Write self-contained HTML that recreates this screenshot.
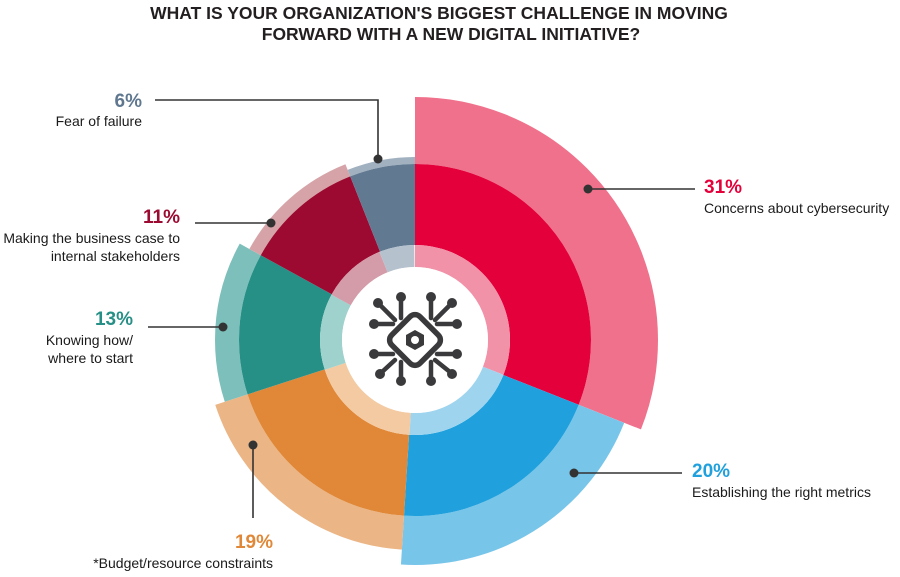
<!DOCTYPE html>
<html><head><meta charset="utf-8"><style>
html,body{margin:0;padding:0;background:#fff;}
svg{display:block;font-family:"Liberation Sans",sans-serif;}
.p{font-weight:bold;font-size:19px;}
.l{font-size:14px;fill:#1a1a1a;}
</style></head><body>
<svg width="900" height="577" viewBox="0 0 900 577">
<text x="439" y="19" text-anchor="middle" font-weight="bold" font-size="17.5" fill="#231f20">WHAT IS YOUR ORGANIZATION'S BIGGEST CHALLENGE IN MOVING</text>
<text x="451" y="40" text-anchor="middle" font-weight="bold" font-size="17.5" fill="#231f20">FORWARD WITH A NEW DIGITAL INITIATIVE?</text>
<g transform="rotate(-90 415 340)" fill="none">
<circle cx="415" cy="340" r="209.5" stroke="#f0718b" stroke-width="67" pathLength="100" stroke-dasharray="31 100" stroke-dashoffset="0"/>
<circle cx="415" cy="340" r="200.5" stroke="#78c5ea" stroke-width="49" pathLength="100" stroke-dasharray="20 100" stroke-dashoffset="-31"/>
<circle cx="415" cy="340" r="193" stroke="#ebb585" stroke-width="34" pathLength="100" stroke-dasharray="19 100" stroke-dashoffset="-51"/>
<circle cx="415" cy="340" r="188" stroke="#7dbfba" stroke-width="24" pathLength="100" stroke-dasharray="13 100" stroke-dashoffset="-70"/>
<circle cx="415" cy="340" r="182.5" stroke="#d6a4a8" stroke-width="13" pathLength="100" stroke-dasharray="11 100" stroke-dashoffset="-83"/>
<circle cx="415" cy="340" r="179.5" stroke="#a2b1c0" stroke-width="7" pathLength="100" stroke-dasharray="6 100" stroke-dashoffset="-94"/>
<circle cx="415" cy="340" r="135.5" stroke="#e4003b" stroke-width="81" pathLength="100" stroke-dasharray="31 100" stroke-dashoffset="0"/>
<circle cx="415" cy="340" r="135.5" stroke="#20a1dd" stroke-width="81" pathLength="100" stroke-dasharray="20 100" stroke-dashoffset="-31"/>
<circle cx="415" cy="340" r="135.5" stroke="#e08838" stroke-width="81" pathLength="100" stroke-dasharray="19 100" stroke-dashoffset="-51"/>
<circle cx="415" cy="340" r="135.5" stroke="#268f86" stroke-width="81" pathLength="100" stroke-dasharray="13 100" stroke-dashoffset="-70"/>
<circle cx="415" cy="340" r="135.5" stroke="#9c0a31" stroke-width="81" pathLength="100" stroke-dasharray="11 100" stroke-dashoffset="-83"/>
<circle cx="415" cy="340" r="135.5" stroke="#617a92" stroke-width="81" pathLength="100" stroke-dasharray="6 100" stroke-dashoffset="-94"/>
<circle cx="415" cy="340" r="84" stroke="#f292a8" stroke-width="22" pathLength="100" stroke-dasharray="31 100" stroke-dashoffset="0"/>
<circle cx="415" cy="340" r="84" stroke="#9fd4ef" stroke-width="22" pathLength="100" stroke-dasharray="20 100" stroke-dashoffset="-31"/>
<circle cx="415" cy="340" r="84" stroke="#f3caa2" stroke-width="22" pathLength="100" stroke-dasharray="19 100" stroke-dashoffset="-51"/>
<circle cx="415" cy="340" r="84" stroke="#9fd1cd" stroke-width="22" pathLength="100" stroke-dasharray="13 100" stroke-dashoffset="-70"/>
<circle cx="415" cy="340" r="84" stroke="#d49ba8" stroke-width="22" pathLength="100" stroke-dasharray="11 100" stroke-dashoffset="-83"/>
<circle cx="415" cy="340" r="84" stroke="#b5c1cd" stroke-width="22" pathLength="100" stroke-dasharray="6 100" stroke-dashoffset="-94"/>
</g>
<circle cx="415" cy="340" r="73" fill="#fff"/>
<g transform="translate(415 340)" stroke="#3a3a3c" stroke-width="4.5" fill="none" stroke-linecap="round">
<g>
<line x1="-14" y1="-22" x2="-14" y2="-41"/><line x1="16" y1="-22" x2="16" y2="-41"/>
<line x1="-14" y1="22" x2="-14" y2="39"/><line x1="16" y1="22" x2="16" y2="39"/>
<line x1="-22" y1="-16" x2="-39" y2="-16"/><line x1="-22" y1="14" x2="-39" y2="14"/>
<line x1="22" y1="-16" x2="40" y2="-16"/><line x1="22" y1="14" x2="40" y2="14"/>
<line x1="-20" y1="-20" x2="-35" y2="-35"/><line x1="20" y1="-20" x2="35" y2="-35"/>
<line x1="-20" y1="20" x2="-33" y2="32"/><line x1="20" y1="20" x2="35" y2="32"/>
</g>
<rect x="-20" y="-20" width="40" height="40" rx="7" transform="rotate(45)" fill="#fff" stroke-width="5.5"/>
<polygon points="0,-10 9,-5 9,5 0,10 -9,5 -9,-5" fill="#3a3a3c" stroke="none"/>
<circle r="4" fill="#fff" stroke="none"/>
<g fill="#3a3a3c" stroke="none">
<circle cx="-37" cy="-37" r="5"/><circle cx="-14" cy="-43" r="5"/><circle cx="16" cy="-43" r="5"/><circle cx="37" cy="-37" r="5"/>
<circle cx="-41" cy="-16" r="5"/><circle cx="42" cy="-16" r="5"/><circle cx="-41" cy="14" r="5"/><circle cx="42" cy="14" r="5"/>
<circle cx="-35" cy="34" r="5"/><circle cx="-14" cy="41" r="5"/><circle cx="16" cy="41" r="5"/><circle cx="37" cy="34" r="5"/>
</g>
</g>
<g stroke="#333" stroke-width="1.6" fill="none">
<polyline points="155,100 378,100 378,159"/>
<line x1="195" y1="223" x2="271" y2="223"/>
<line x1="148" y1="327" x2="223" y2="327"/>
<line x1="588" y1="189" x2="695" y2="189"/>
<line x1="574" y1="473" x2="682" y2="473"/>
<line x1="253" y1="445" x2="253" y2="518"/>
</g>
<g fill="#333">
<circle cx="378" cy="159" r="4.5"/><circle cx="271" cy="223" r="4.5"/><circle cx="223" cy="327" r="4.5"/>
<circle cx="588" cy="189" r="4.5"/><circle cx="574" cy="473" r="4.5"/><circle cx="253" cy="445" r="4.5"/>
</g>
<text class="p" x="142" y="107" text-anchor="end" fill="#5f7890">6%</text>
<text class="l" x="142" y="126" text-anchor="end">Fear of failure</text>
<text class="p" x="180" y="223" text-anchor="end" fill="#9c0a31">11%</text>
<text class="l" x="180" y="243" text-anchor="end">Making the business case to</text>
<text class="l" x="180" y="261" text-anchor="end">internal stakeholders</text>
<text class="p" x="133" y="325" text-anchor="end" fill="#268f86">13%</text>
<text class="l" x="133" y="345" text-anchor="end">Knowing how/</text>
<text class="l" x="133" y="363" text-anchor="end">where to start</text>
<text class="p" x="704" y="193" fill="#e4003b">31%</text>
<text class="l" x="704" y="213">Concerns about cybersecurity</text>
<text class="p" x="692" y="477" fill="#20a1dd">20%</text>
<text class="l" x="692" y="497">Establishing the right metrics</text>
<text class="p" x="273" y="548" text-anchor="end" fill="#e08838">19%</text>
<text class="l" x="273" y="568" text-anchor="end">*Budget/resource constraints</text>
</svg>
</body></html>
